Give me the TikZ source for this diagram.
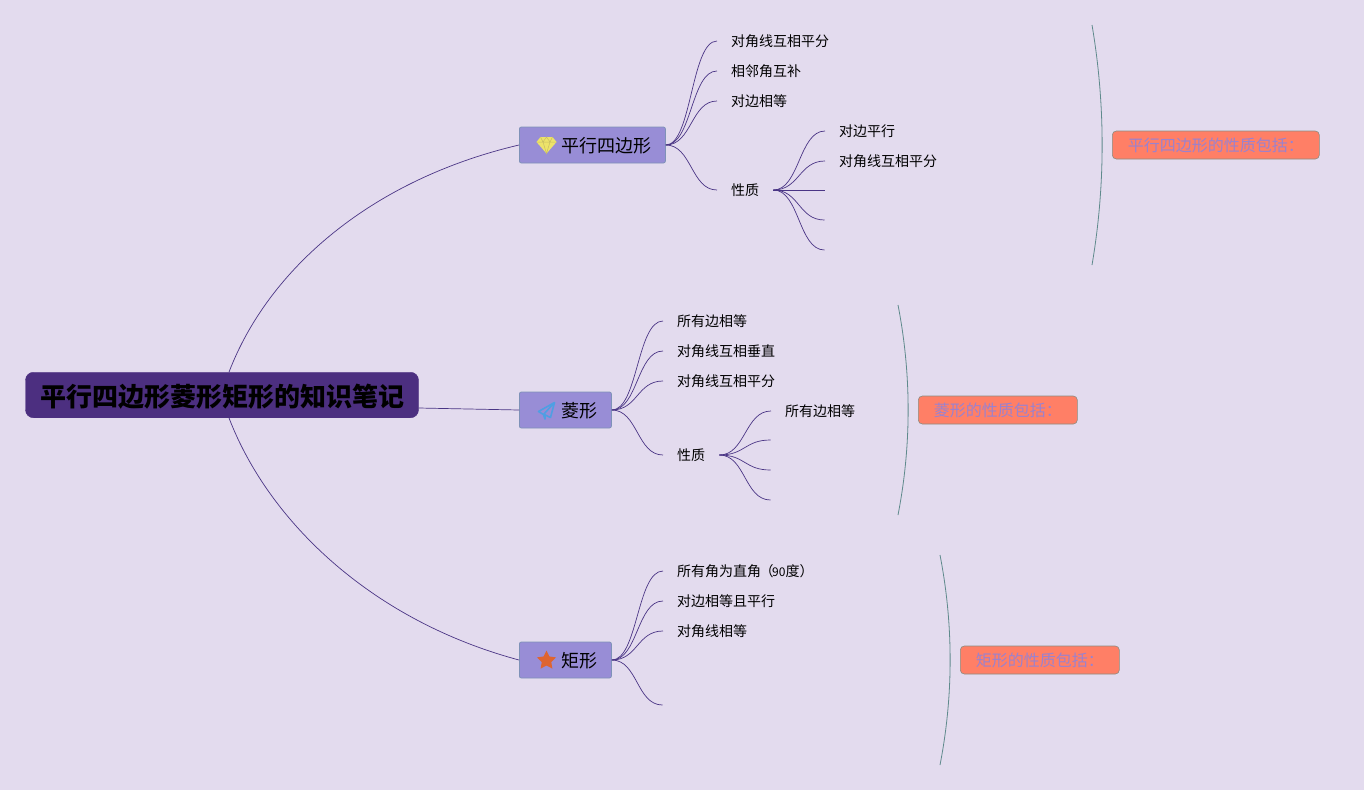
\documentclass[tikz,border=0pt]{standalone}
\usepackage{fontspec}
\setmainfont{Liberation Serif}
\newfontfamily\cjk{Noto Sans CJK SC}
\usetikzlibrary{shapes.geometric,calc}
\definecolor{bgcol}{HTML}{E3DBEE}
\definecolor{rootcol}{HTML}{4C2F80}
\definecolor{boxcol}{HTML}{988DD6}
\definecolor{boxline}{HTML}{7F92B8}
\definecolor{linecol}{HTML}{4A3585}
\definecolor{notecol}{HTML}{FF7F66}
\definecolor{noteline}{HTML}{8C8C80}
\definecolor{notetext}{HTML}{9A82CF}
\definecolor{bracketcol}{HTML}{5F8A8C}
\definecolor{gemcol}{HTML}{EDE36A}
\definecolor{gemline}{HTML}{C9BE62}
\definecolor{planecol}{HTML}{4F9FE3}
\definecolor{starcol}{HTML}{DF6430}
\tikzset{
  rootbox/.style={fill=rootcol,draw=rootcol,rounded corners=8pt,minimum width=393pt,minimum height=45.5pt,inner sep=0pt,text height=24pt,text depth=0.2pt,font=\fontsize{26}{26}\selectfont\cjk\bfseries},
  branchbox/.style={fill=boxcol,draw=boxline,line width=0.8pt,rounded corners=2pt,anchor=west,minimum height=36pt,inner xsep=14pt,inner ysep=0pt,text height=16pt,text depth=0.3pt,font=\fontsize{18}{18}\selectfont\cjk},
  leaf/.style={anchor=west,inner xsep=14pt,inner ysep=0pt,text height=13pt,text depth=1.4pt,font=\fontsize{14}{14}\selectfont\cjk},
  notebox/.style={fill=notecol,draw=noteline,line width=0.6pt,rounded corners=4pt,anchor=west,minimum height=28pt,inner xsep=15.5pt,inner ysep=0pt,text=notetext,font=\fontsize{16}{16}\selectfont\cjk},
  link/.style={draw=linecol,line width=0.7pt},
  bracket/.style={draw=bracketcol,line width=0.8pt},
}
\begin{document}
\begin{tikzpicture}[x=1pt,y=-1pt]

          \fill[bgcol] (0,0) rectangle (1364,790);

          \node[rootbox] (root) at (222,395) {平行四边形菱形矩形的知识笔记};

          \node[branchbox] (para) at (519,145) {\hspace{28pt}平行四边形};
          \node[branchbox] (rhomb) at (519,410) {\hspace{28pt}菱形};
          \node[branchbox] (rect) at (519,660) {\hspace{28pt}矩形};

          \draw[link] (root.73) .. controls (268,270) and (370,180) .. (para.west);
          \draw[link] ($(root.east)+(0,13)$) -- (rhomb.west);
          \draw[link] (root.-73) .. controls (268,520) and (370,620) .. (rect.west);

          % parallelogram leaves
          \node[leaf] (paraA) at (717,41) {对角线互相平分};
          \node[leaf] (paraB) at (717,71) {相邻角互补};
          \node[leaf] (paraC) at (717,101) {对边相等};
          \node[leaf] (paraD) at (717,190) {性质};
          \foreach \leafname in {paraA,paraB,paraC,paraD}{
            \draw[link] (para.east) .. controls +(26,0) and ($(\leafname.west)+(-26,0)$) .. (\leafname.west);
          }
          \node[leaf] (paraE) at (825,131) {对边平行};
          \node[leaf] (paraF) at (825,161) {对角线互相平分};
          \coordinate (paraG) at (824.5,190);
          \coordinate (paraH) at (824.5,220);
          \coordinate (paraI) at (824.5,250);
          \foreach \leafname in {paraE.west,paraF.west,paraG,paraH,paraI}{
            \draw[link] (paraD.east) .. controls +(26,0) and ($(\leafname)+(-26,0)$) .. (\leafname);
          }

          % rhombus leaves
          \node[leaf] (rhombA) at (663,321) {所有边相等};
          \node[leaf] (rhombB) at (663,351) {对角线互相垂直};
          \node[leaf] (rhombC) at (663,381) {对角线互相平分};
          \node[leaf] (rhombD) at (663,455) {性质};
          \foreach \leafname in {rhombA,rhombB,rhombC,rhombD}{
            \draw[link] (rhomb.east) .. controls +(26,0) and ($(\leafname.west)+(-26,0)$) .. (\leafname.west);
          }
          \node[leaf] (rhombE) at (771,411) {所有边相等};
          \coordinate (rhombF) at (770.5,440);
          \coordinate (rhombG) at (770.5,470);
          \coordinate (rhombH) at (770.5,500);
          \foreach \leafname in {rhombE.west,rhombF,rhombG,rhombH}{
            \draw[link] (rhombD.east) .. controls +(26,0) and ($(\leafname)+(-26,0)$) .. (\leafname);
          }

          % rectangle leaves
          \node[leaf] (rectA) at (663,571) {所有角为直角\hspace{-1.5pt}（\hspace{-1.5pt}{\fontsize{12}{12}\selectfont 90}度）};
          \node[leaf] (rectB) at (663,601) {对边相等且平行};
          \node[leaf] (rectC) at (663,631) {对角线相等};
          \coordinate (rectD) at (662.5,705);
          \foreach \leafname in {rectA.west,rectB.west,rectC.west,rectD}{
            \draw[link] (rect.east) .. controls +(26,0) and ($(\leafname)+(-26,0)$) .. (\leafname);
          }

          % brackets and summaries
          \coordinate (paraTop) at (1092,25);
          \coordinate (paraEnd) at (1092,265);
          \coordinate (rhombTop) at (898,305);
          \coordinate (rhombEnd) at (898,515);
          \coordinate (rectTop) at (940,555);
          \coordinate (rectEnd) at (940,765);
          \foreach \brk in {para,rhomb,rect}{
            \draw[bracket] (\brk Top) .. controls ($(\brk Top)!0.33!(\brk End)+(13.5,0)$) and ($(\brk Top)!0.67!(\brk End)+(13.5,0)$) .. (\brk End);
          }
          \node[notebox] (paraNote) at (1112,145) {平行四边形的性质包括：};
          \node[notebox] (rhombNote) at (918,410) {菱形的性质包括：};
          \node[notebox] (rectNote) at (960,660) {矩形的性质包括：};

          % icons
          \begin{scope}[shift={(546.5,145)}]
            \fill[gemcol] (-6,-8)--(6,-8)--(10,-3)--(0,8.5)--(-10,-3)--cycle;
            \draw[gemline,line width=0.5pt] (-10,-3)--(10,-3) (-6,-8)--(-3.5,-3)--(0,8.5)--(3.5,-3)--(6,-8) (-3.5,-3)--(0,-8)--(3.5,-3);
          \end{scope}
          \begin{scope}[shift={(537,402)}]
            \draw[planecol,line width=1.6pt,line join=round] (17.5,0.5)--(1.5,9.5)--(6.5,12.5)--(17.5,0.5)--(13.5,15.5)--(8,12.8)--(8,17)--(6.5,12.5);
          \end{scope}
          \node[star,star points=5,star point ratio=2,fill=starcol,inner sep=0pt,minimum size=20pt] (rectIcon) at (546.5,660.5) {};

        \end{tikzpicture}
\end{document}
